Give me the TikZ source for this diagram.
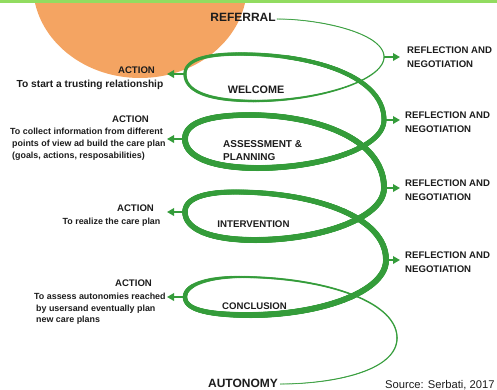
\documentclass[tikz,border=0pt]{standalone}
\usepackage{fontspec}
\setmainfont{Liberation Sans}
\usetikzlibrary{decorations.markings,arrows.meta}
\definecolor{spiralgreen}{RGB}{52,156,58}
\definecolor{barGreen}{RGB}{146,220,96}
\definecolor{sunOrange}{RGB}{244,164,98}
\definecolor{ink}{RGB}{28,28,28}
\newcommand\myfs[2]{\fontsize{#1}{#2}\selectfont}
\tikzset{
  taper/.style 2 args={decorate,decoration={markings,
    mark=between positions 0 and 1 step 0.6pt with {%
      \pgfmathsetmacro\tapw{0.5*(#1+(#2-#1)*\pgfkeysvalueof{/pgf/decoration/mark info/distance from start}/\pgfdecoratedpathlength)}%
      \fill[spiralgreen] (0pt,0pt) circle[radius=\tapw pt];}}},
  lbl/.style={text=ink, inner sep=0pt},
  stage/.style={lbl, font=\bfseries\myfs{10}{12}},
  refl/.style={lbl, font=\bfseries\myfs{9.6}{13.5}, align=left, anchor=north west},
  actt/.style={lbl, font=\bfseries\myfs{9.6}{12}, anchor=base},
  desc/.style={lbl, font=\bfseries\myfs{8.9}{12}, align=left},
  arr/.style={draw=spiralgreen, line width=1.8pt, -{Triangle[length=7pt,width=7.5pt]}},
}
\begin{document}
\begin{tikzpicture}[x=1pt,y=-1pt]
\useasboundingbox (0,0) rectangle (497,389);
\begin{scope}
  \clip (0,0) rectangle (497,389);
  \fill[sunOrange] (140,-15) ellipse [x radius=107pt, y radius=93pt];
\end{scope}
\fill[barGreen] (0,0) rectangle (497,3.3);

% key points of the spiral
\coordinate (S0) at (277,19);
\coordinate (R1) at (384,57);
\coordinate (B1) at (255,101);
\coordinate (L1) at (185,74);
\coordinate (T1) at (240,54);
\coordinate (R2) at (384,120);
\coordinate (B2) at (258,168);
\coordinate (L2) at (185,139);
\coordinate (T2) at (250,115);
\coordinate (R3) at (384,188);
\coordinate (B3) at (255,240);
\coordinate (L3) at (185,212);
\coordinate (T3) at (235,192);
\coordinate (R4) at (386,260);
\coordinate (B4) at (250,315);
\coordinate (L4) at (185,297);
\coordinate (T4) at (240,277);
\coordinate (R5) at (397,338);
\coordinate (E0) at (280,384);

% spiral
\path[taper={1}{1.3}] (S0) .. controls (320,19) and (384,33) .. (R1);
\path[taper={1.3}{2.6}] (R1) .. controls (384,80) and (320,101) .. (B1);
\path[taper={2.6}{3.4}] (B1) .. controls (210,101) and (185,92) .. (L1);
\path[taper={3.4}{3.6}] (L1) .. controls (185,60) and (205,54) .. (T1);
\path[taper={3.6}{5}] (T1) .. controls (310,54) and (384,75) .. (R2);
\path[taper={5}{6}] (R2) .. controls (384,148) and (320,168) .. (B2);
\path[taper={6}{6}] (B2) .. controls (210,168) and (185,156) .. (L2);
\path[taper={6}{5.5}] (L2) .. controls (185,122) and (210,115) .. (T2);
\path[taper={5.5}{6}] (T2) .. controls (315,115) and (384,138) .. (R3);
\path[taper={6}{6}] (R3) .. controls (384,218) and (320,240) .. (B3);
\path[taper={6}{5.5}] (B3) .. controls (210,240) and (185,229) .. (L3);
\path[taper={5.5}{5}] (L3) .. controls (185,198) and (205,192) .. (T3);
\path[taper={5}{6}] (T3) .. controls (310,192) and (386,215) .. (R4);
\path[taper={6}{6}] (R4) .. controls (386,292) and (320,315) .. (B4);
\path[taper={6}{4.5}] (B4) .. controls (205,315) and (185,309) .. (L4);
\path[taper={4.5}{2.3}] (L4) .. controls (185,284) and (210,277) .. (T4);
\path[taper={2.3}{1.5}] (T4) .. controls (320,277) and (397,300) .. (R5);
\path[taper={1.5}{1}] (R5) .. controls (397,372) and (330,384) .. (E0);

% stage labels
\node[stage, font=\bfseries\myfs{12}{14}, anchor=base] (referral) at (243,21.5) {REFERRAL};
\node[stage, font=\bfseries\myfs{10.8}{12}, anchor=base] (welcome) at (256,93) {WELCOME};
\node[stage, font=\bfseries\myfs{10}{13.5}, align=left, anchor=north west] (assess) at (223,140) {ASSESSMENT \&\\PLANNING};
\node[stage, font=\bfseries\myfs{9.7}{12}, anchor=base] (interv) at (253.5,227) {INTERVENTION};
\node[stage, font=\bfseries\myfs{9.6}{12}, anchor=base] (concl) at (254.5,309) {CONCLUSION};
\node[stage, font=\bfseries\myfs{12}{14}, anchor=base] (autonomy) at (243,387.5) {AUTONOMY};
\node[lbl, font=\myfs{11.2}{14}, anchor=base west] (source) at (385,388) {Source: Serbati, 2017};

% reflection labels
\node[refl] (ref1) at (407,46.7) {REFLECTION AND\\NEGOTIATION};
\node[refl, font=\bfseries\myfs{9.6}{14}] (ref2) at (405,112) {REFLECTION AND\\NEGOTIATION};
\node[refl, font=\bfseries\myfs{9.6}{14}] (ref3) at (405,180) {REFLECTION AND\\NEGOTIATION};
\node[refl, font=\bfseries\myfs{9.6}{14}] (ref4) at (405,252) {REFLECTION AND\\NEGOTIATION};

\draw[arr, shorten >=7pt] (R1) -- (R1 -| ref1.west);
\draw[arr, shorten >=5pt] (R2) -- (R2 -| ref2.west);
\draw[arr, shorten >=5pt] (R3) -- (R3 -| ref3.west);
\draw[arr, shorten >=5pt] (R4) -- (R4 -| ref4.west);

% action labels
\node[actt] (act1) at (136.5,73.5) {ACTION};
\node[lbl, font=\bfseries\myfs{10.2}{12}, anchor=base] (desc1) at (90,87) {To start a trusting relationship};
\node[actt] (act2) at (130.5,122.5) {ACTION};
\node[desc, anchor=north west] (desc2) at (10,128) {To collect information from different\\\hspace{2pt}points of view ad build the care plan\\\hspace{2pt}(goals, actions, resposabilities)};
\node[actt] (act3) at (135.5,211.5) {ACTION};
\node[desc, anchor=base] (desc3) at (111.5,224) {To realize the care plan};
\node[actt] (act4) at (133.5,286.5) {ACTION};
\node[desc, font=\bfseries\myfs{8.9}{11.5}, anchor=north west] (desc4) at (34,293) {To assess autonomies reached\\\hspace{2pt}by usersand eventually plan\\\hspace{2pt}new care plans};

\coordinate (la1) at (167,74);
\coordinate (la2) at (167,139);
\coordinate (la3) at (167,212);
\coordinate (la4) at (167,297);
\draw[arr] (L1) -- (la1);
\draw[arr] (L2) -- (la2);
\draw[arr] (L3) -- (la3);
\draw[arr] (L4) -- (la4);
\end{tikzpicture}
\end{document}
